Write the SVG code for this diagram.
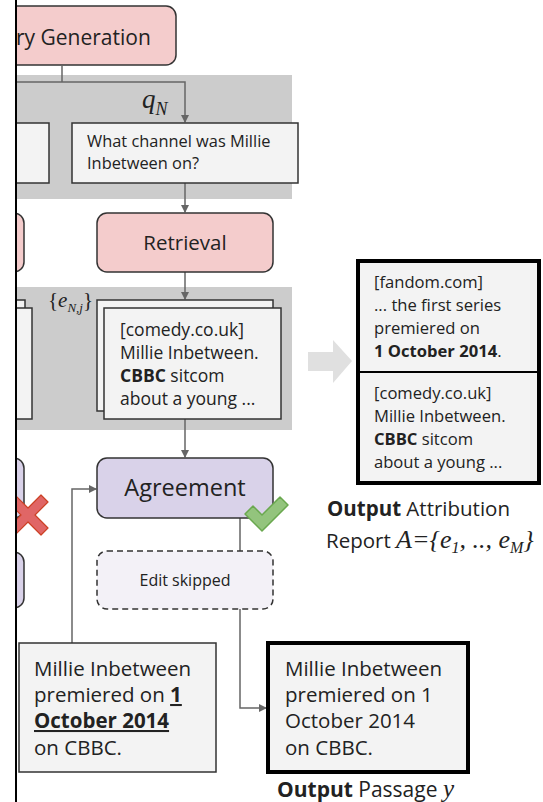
<svg xmlns="http://www.w3.org/2000/svg" width="543" height="802" viewBox="0 0 543 802">
<style>
.t{font-family:"Open Sans","Liberation Sans",Arial,sans-serif;fill:#222}
.m{font-family:"Liberation Serif","Times New Roman",serif;font-style:italic;fill:#222}
.pink{fill:#f4cccc;stroke:#333;stroke-width:1.5}
.lav{fill:#d9d2e9;stroke:#333;stroke-width:1.5}
.card{fill:#f3f3f3;stroke:#333;stroke-width:1.5}
.band{fill:#cccccc}
.c{fill:none;stroke:#666;stroke-width:1.5}
</style>
<defs>
<marker id="ah" markerWidth="8" markerHeight="8" refX="7" refY="4" orient="auto" markerUnits="userSpaceOnUse">
<path d="M0,0 L8,4 L0,8 Z" fill="#666"/>
</marker>
<clipPath id="clip"><rect x="16" y="0" width="527" height="802"/></clipPath>
</defs>
<rect x="0" y="0" width="543" height="802" fill="#fff"/>
<g clip-path="url(#clip)">
<rect class="band" x="0" y="75" width="292" height="124"/>
<rect class="band" x="0" y="287" width="292" height="143"/>

<g id="connectors">
<path class="c" d="M62,66 V82"/>
<path class="c" d="M0,82 H185 V122" marker-end="url(#ah)"/>
<path class="c" d="M185,183 V212" marker-end="url(#ah)"/>
<path class="c" d="M185,272 V299" marker-end="url(#ah)"/>
<path class="c" d="M185,419 V457" marker-end="url(#ah)"/>
<path class="c" d="M240,518 V708 H266" marker-end="url(#ah)"/>
<path class="c" d="M72,643 V489 H96" marker-end="url(#ah)"/>
</g>

<g id="query-generation">
<rect class="pink" x="-60" y="6" width="236" height="59" rx="10"/>
<text class="t" x="16" y="45" font-size="21">ry Generation</text>
</g>
<g id="query-left">
<rect class="card" x="-100" y="123" width="149" height="60"/>
</g>
<g id="qN-label">
<text class="m" x="142" y="108" font-size="27">q<tspan font-size="18" dy="7">N</tspan></text>
</g>
<g id="query">
<rect class="card" x="72" y="123" width="226" height="60"/>
<text class="t" x="87" y="147" font-size="16.4">What channel was Millie</text>
<text class="t" x="87" y="169" font-size="16.4">Inbetween on?</text>
</g>
<g id="retrieval-left">
<rect class="pink" x="-100" y="213" width="124" height="59" rx="10"/>
</g>
<g id="retrieval">
<rect class="pink" x="97" y="213" width="176" height="59" rx="10"/>
<text class="t" x="185" y="250" font-size="20.5" text-anchor="middle">Retrieval</text>
</g>
<g id="evidence-left">
<rect class="card" x="-100" y="300" width="125" height="111"/>
<rect class="card" x="-100" y="308" width="132" height="111"/>
</g>
<g id="evidence-label">
<text class="m" x="48" y="307" font-size="21"><tspan font-style="normal">{</tspan>e<tspan font-size="13" dy="5">N,j</tspan><tspan font-style="normal" font-size="21" dy="-5">}</tspan></text>
</g>
<g id="evidence">
<rect class="card" x="97" y="300" width="176" height="111"/>
<rect class="card" x="104" y="308" width="177" height="111"/>
<text class="t" x="120" y="336" font-size="17.5">[comedy.co.uk]</text>
<text class="t" x="120" y="359" font-size="17.5">Millie Inbetween.</text>
<text class="t" x="120" y="382" font-size="17.5"><tspan font-weight="bold">CBBC</tspan> sitcom</text>
<text class="t" x="120" y="405" font-size="17.5">about a young ...</text>
</g>
<g id="agreement-left">
<rect class="lav" x="-100" y="458" width="124" height="60" rx="10"/>
<rect class="lav" x="-100" y="552" width="124" height="56" rx="10"/>
</g>
<g id="red-x">
<path d="M8,502 L15,495 L28,508 L41,495 L48,502 L35,515 L48,528 L41,535 L28,522 L15,535 L8,528 L21,515 Z" fill="#e06666" stroke="#cc4125" stroke-width="1.2" stroke-linejoin="round"/>
</g>
<g id="agreement">
<rect class="lav" x="97" y="458" width="176" height="60" rx="10"/>
<text class="t" x="185" y="496" font-size="23.5" text-anchor="middle">Agreement</text>
</g>
<g id="green-check">
<path d="M245,514 L253,506 L262,515 L280,497 L288,505 L262,531 Z" fill="#93c47d" stroke="#6aa84f" stroke-width="1.5" stroke-linejoin="round"/>
</g>
<g id="edit-skipped">
<rect x="97" y="551" width="176" height="58" rx="10" fill="#f3f1f7" stroke="#333" stroke-width="1.5" stroke-dasharray="6,4"/>
<text class="t" x="185" y="586" font-size="16" text-anchor="middle">Edit skipped</text>
</g>
<g id="input-passage">
<rect class="card" x="19" y="643" width="197" height="129"/>
<text class="t" x="34" y="676" font-size="20.5">Millie Inbetween</text>
<text class="t" x="34" y="702" font-size="20.5">premiered on <tspan font-weight="bold" text-decoration="underline">1</tspan></text>
<text class="t" x="34" y="728" font-size="20.5" font-weight="bold" text-decoration="underline">October 2014</text>
<text class="t" x="34" y="755" font-size="20.5">on CBBC.</text>
</g>
<g id="output-passage">
<rect x="268" y="643" width="200" height="129" fill="#f3f3f3" stroke="#000" stroke-width="4"/>
<text class="t" x="285" y="676" font-size="20.5">Millie Inbetween</text>
<text class="t" x="285" y="702" font-size="20.5">premiered on 1</text>
<text class="t" x="285" y="728" font-size="20.5">October 2014</text>
<text class="t" x="285" y="755" font-size="20.5">on CBBC.</text>
<text class="t" x="277" y="797" font-size="21"><tspan font-weight="bold">Output</tspan> Passage <tspan class="m" font-size="25">y</tspan></text>
</g>
<g id="big-arrow">
<path d="M308,352 H333 V340 L352,361 L333,383 V371 H308 Z" fill="#e0e0e0"/>
</g>
<g id="attribution-report">
<rect x="358" y="261" width="181" height="222" fill="#f3f3f3" stroke="#000" stroke-width="4"/>
<line x1="358" y1="372" x2="539" y2="372" stroke="#000" stroke-width="2"/>
<text class="t" x="374" y="288" font-size="16.6">[fandom.com]</text>
<text class="t" x="374" y="311" font-size="16.6">... the first series</text>
<text class="t" x="374" y="334" font-size="16.6">premiered on</text>
<text class="t" x="374" y="357" font-size="16.6" font-weight="bold">1 October 2014<tspan font-weight="normal">.</tspan></text>
<text class="t" x="374" y="399" font-size="16.6">[comedy.co.uk]</text>
<text class="t" x="374" y="422" font-size="16.6">Millie Inbetween.</text>
<text class="t" x="374" y="445" font-size="16.6"><tspan font-weight="bold">CBBC</tspan> sitcom</text>
<text class="t" x="374" y="468" font-size="16.6">about a young ...</text>
<text class="t" x="327" y="516" font-size="20.5"><tspan font-weight="bold">Output</tspan> Attribution</text>
<text class="t" x="326" y="548" font-size="20.5">Report <tspan class="m" font-size="26">A</tspan><tspan class="m" font-style="normal" font-size="26">={</tspan><tspan class="m" font-size="26">e</tspan><tspan class="m" font-size="16" dy="5">1</tspan><tspan class="m" font-style="normal" font-size="26" dy="-5">, .., </tspan><tspan class="m" font-size="26">e</tspan><tspan class="m" font-size="16" dy="5">M</tspan><tspan class="m" font-style="normal" font-size="26" dy="-5">}</tspan></text>
</g>
</g>
<rect x="0" y="0" width="15" height="802" fill="#fff"/>
<rect x="15" y="0" width="2" height="802" fill="#000"/>
</svg>
